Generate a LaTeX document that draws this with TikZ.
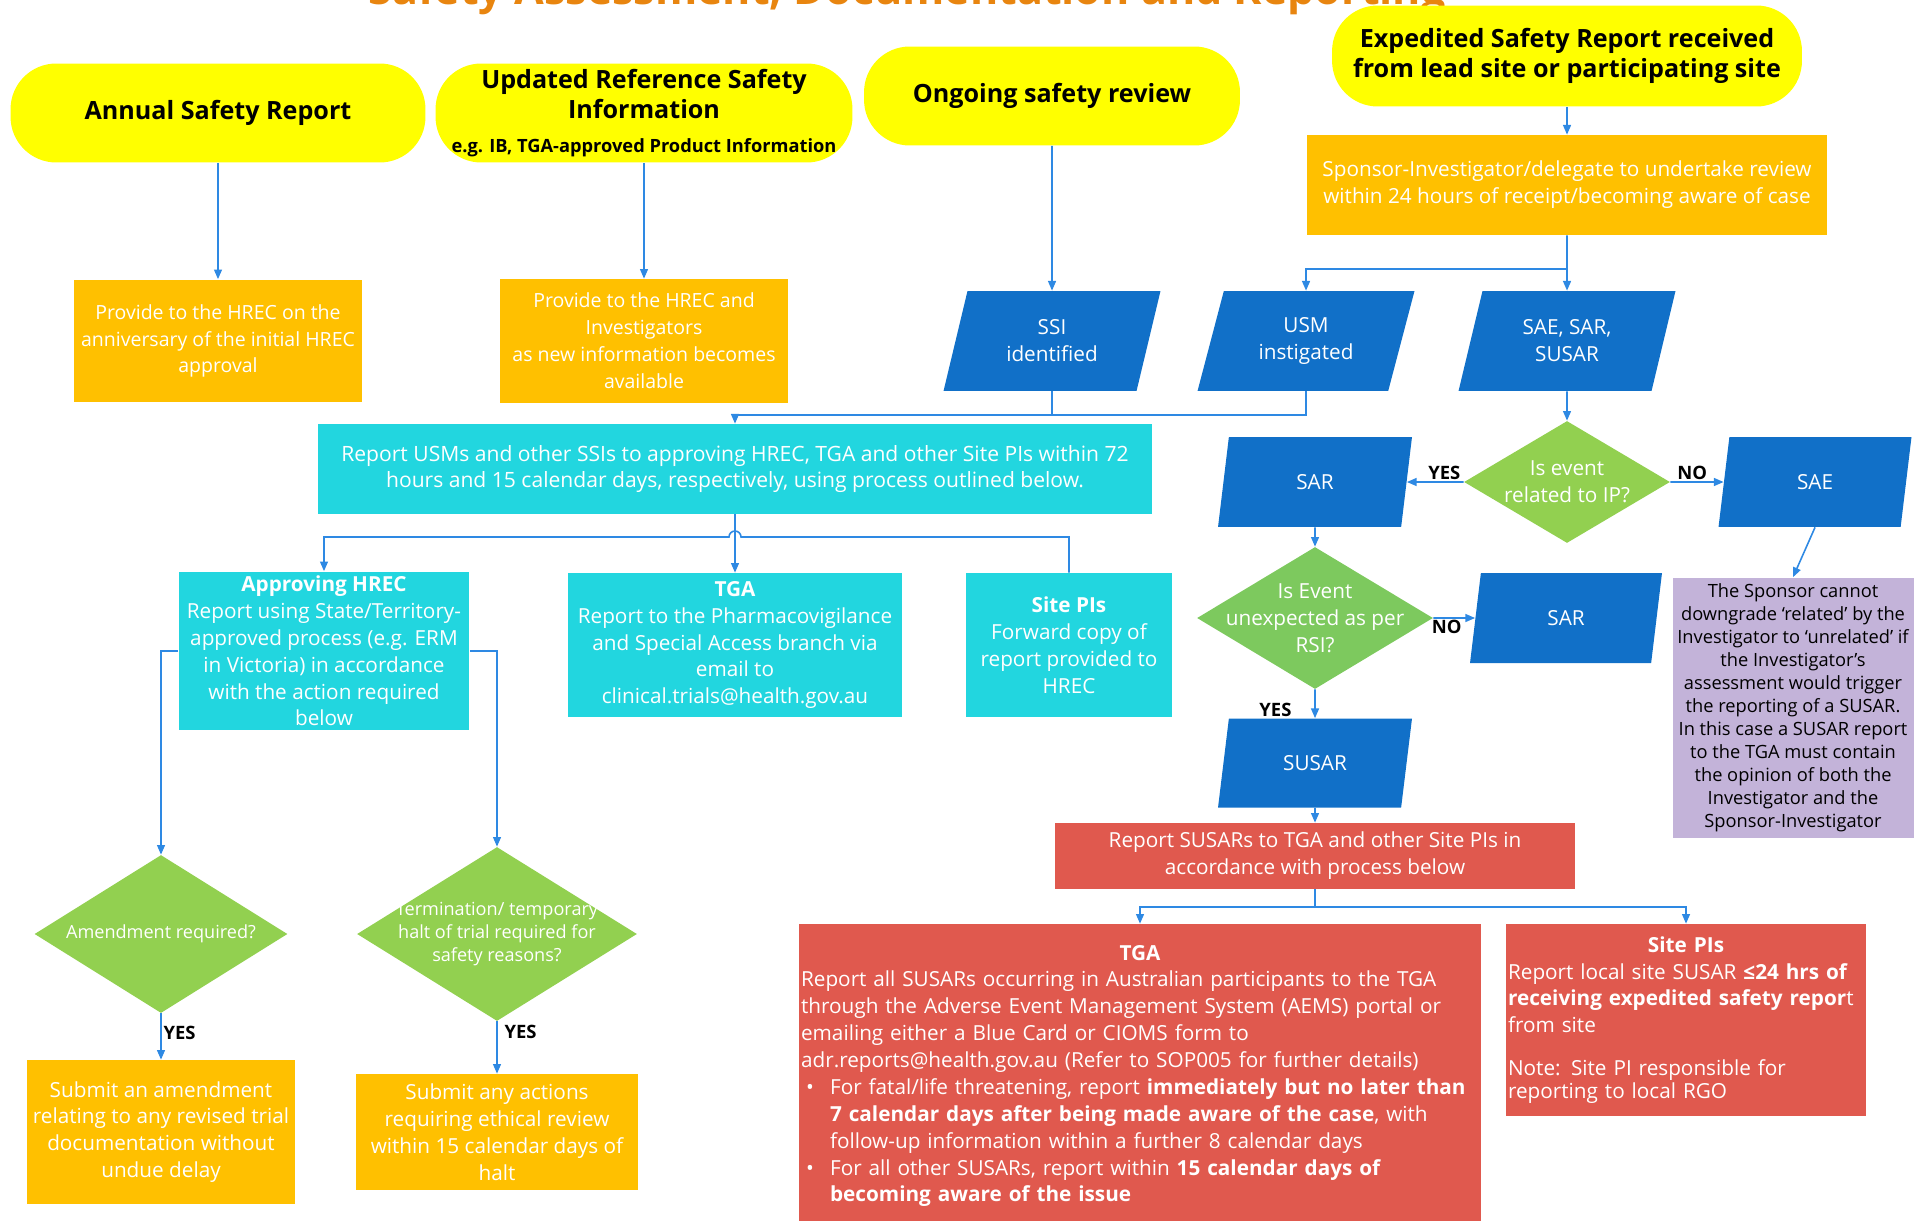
\documentclass[tikz,border=0pt]{standalone}
\usepackage{fontspec}
\setmainfont{Open Sans}
\usetikzlibrary{arrows.meta,positioning,calc,shapes.geometric}
\definecolor{sunny}{HTML}{FFFF00}
\definecolor{amber}{HTML}{FFC000}
\definecolor{ocean}{HTML}{1170C8}
\definecolor{aqua}{HTML}{22D6DF}
\definecolor{leaf}{HTML}{92D050}
\definecolor{leafdark}{HTML}{7DC95E}
\definecolor{brick}{HTML}{E0594E}
\definecolor{lilac}{HTML}{C3B3D9}
\definecolor{wire}{HTML}{2E89E3}
\definecolor{heading}{HTML}{E8850F}

\begin{document}
\begin{tikzpicture}[x=0.02cm, y=-0.02cm,
  body/.style={font=\fontsize{11.8}{15.3}\selectfont, text=white, align=center, inner sep=2pt},
  start/.style={fill=sunny, rounded corners=26pt, font=\fontsize{14.3}{17}\selectfont\bfseries, align=center, inner sep=2pt},
  obox/.style={body, fill=amber},
  cbox/.style={body, fill=aqua},
  rbox/.style={body, fill=brick},
  para/.style={body, fill=ocean, trapezium, trapezium left angle=64, trapezium right angle=116, trapezium stretches body},
  dec/.style={body, fill=leaf, diamond, inner sep=-1cm},
  note/.style={fill=lilac, align=center, font=\fontsize{10.4}{13.1}\selectfont, inner sep=2pt},
  yn/.style={font=\fontsize{10.5}{13}\selectfont\bfseries, text=black, inner sep=1pt},
  arr/.style={-{Triangle[length=5.5pt,width=4.5pt]}, wire, line width=0.9pt},
  link/.style={wire, line width=0.9pt}]
  \useasboundingbox (0,0) rectangle (1922,1220);
  \clip (0,0) rectangle (1922,1220);

  % heading, cut by the top edge
  \node[font=\fontsize{24.5}{30}\selectfont\bfseries, text=heading, anchor=base] (heading) at (907,5) {Safety Assessment, Documentation and Reporting};

  % starting points
  \node[start, minimum width=8.3cm, minimum height=1.98cm] (annual) at (218,113) {Annual Safety Report};
  \node[start, minimum width=8.34cm, minimum height=1.98cm] (updated) at (644,113) {Updated Reference Safety\\Information\\[2.3pt]{\fontsize{10.4}{12}\selectfont e.g. IB, TGA-approved Product Information}};
  \node[start, minimum width=7.52cm, minimum height=1.98cm] (ongoing) at (1052,96) {Ongoing safety review};
  \node[start, minimum width=9.4cm, minimum height=2.02cm] (expedited) at (1567,56) {Expedited Safety Report received\\from lead site or participating site};

  \node[obox, font=\fontsize{11.1}{15.3}\selectfont, minimum width=5.78cm, minimum height=2.46cm] (provide1) at (218,341) {Provide to the HREC on the\\anniversary of the initial HREC\\approval};
  \node[obox, font=\fontsize{11.1}{15.3}\selectfont, minimum width=5.78cm, minimum height=2.48cm] (provide2) at (644,341) {Provide to the HREC and\\Investigators\\as new information becomes\\available};
  \node[obox, minimum width=10.42cm, minimum height=2cm] (sponsor) at (1567,185) {Sponsor-Investigator/delegate to undertake review\\within 24 hours of receipt/becoming aware of case};

  % events
  \node[para, minimum width=4.34cm, minimum height=2cm] (ssi) at (1052,341) {SSI\\identified};
  \node[para, minimum width=4.34cm, minimum height=2cm] (usm) at (1306,341) {USM\\instigated};
  \node[para, minimum width=4.34cm, minimum height=2cm] (saesar) at (1567,341) {SAE, SAR,\\SUSAR};

  % USM / SSI reporting
  \node[cbox, font=\fontsize{12}{15.3}\selectfont, minimum width=16.7cm, minimum height=1.8cm] (reportusm) at (735,469) {Report USMs and other SSIs to approving HREC, TGA and other Site PIs within 72\\hours and 15 calendar days, respectively, using process outlined below.};
  \node[cbox, inner ysep=0pt, inner xsep=1pt, minimum width=5.82cm, minimum height=3.18cm] (hrec) at (324,651) {\textbf{Approving HREC}\\Report using State/Territory-\\approved process (e.g. ERM\\in Victoria) in accordance\\with the action required\\below};
  \node[cbox, minimum width=6.68cm, minimum height=2.88cm] (tgacyan) at (735,645) {\textbf{TGA}\\Report to the Pharmacovigilance\\and Special Access branch via\\email to\\clinical.trials@health.gov.au};
  \node[cbox, minimum width=4.14cm, minimum height=2.88cm] (sitepis) at (1069,645) {\textbf{Site PIs}\\Forward copy of\\report provided to\\HREC};

  \node[dec, font=\fontsize{10.3}{13}\selectfont, minimum width=5.06cm, minimum height=3.16cm] (amend) at (161,934) {Amendment required?};
  \node[dec, font=\fontsize{10.3}{13}\selectfont, minimum width=5.6cm, minimum height=3.48cm] (termhalt) at (497,934) {Termination/ temporary\\halt of trial required for\\safety reasons?};
  \node[obox, minimum width=5.36cm, minimum height=2.88cm] (submitamend) at (161,1132) {Submit an amendment\\relating to any revised trial\\documentation without\\undue delay};
  \node[obox, minimum width=5.64cm, minimum height=2.32cm] (submitact) at (497,1132) {Submit any actions\\requiring ethical review\\within 15 calendar days of\\halt};

  % SAE / SAR / SUSAR assessment
  \node[dec, minimum width=4.12cm, minimum height=2.44cm] (relatedip) at (1567,482) {Is event\\related to IP?};
  \node[para, minimum width=3.88cm, minimum height=1.8cm] (sarleft) at (1315,482) {SAR};
  \node[para, minimum width=3.86cm, minimum height=1.8cm] (sae) at (1815,482) {SAE};
  \node[dec, fill=leafdark, minimum width=4.72cm, minimum height=2.84cm] (unexpected) at (1315,618) {Is Event\\unexpected as per\\RSI?};
  \node[para, minimum width=3.84cm, minimum height=1.8cm] (sarright) at (1566,618) {SAR};
  \node[para, minimum width=3.88cm, minimum height=1.78cm] (susar) at (1315,763) {SUSAR};
  \node[note, minimum width=4.82cm, minimum height=5.22cm] (sponsornote) at (1793,708) {The Sponsor cannot\\downgrade ‘related’ by the\\Investigator to ‘unrelated’ if\\the Investigator’s\\assessment would trigger\\the reporting of a SUSAR.\\In this case a SUSAR report\\to the TGA must contain\\the opinion of both the\\Investigator and the\\Sponsor-Investigator};

  \node[rbox, minimum width=10.42cm, minimum height=1.32cm] (reportsusar) at (1315,856) {Report SUSARs to TGA and other Site PIs in\\accordance with process below};
  \node[rbox, align=left, inner xsep=1pt, text width=13.56cm, minimum width=13.64cm, minimum height=6.08cm] (tgared) at (1140,1076) {\makebox[\linewidth]{\textbf{TGA}}\\
    Report all SUSARs occurring in Australian participants to the TGA\\
    through the Adverse Event Management System (AEMS) portal or\\
    emailing either a Blue Card or CIOMS form to\\
    adr.reports@health.gov.au (Refer to SOP005 for further details)\\
    \hspace*{0.1cm}\makebox[0.48cm][l]{\textbullet}For fatal/life threatening, report \textbf{immediately but no later than}\\
    \hspace*{0.58cm}\textbf{7 calendar days after being made aware of the case}, with\\
    \hspace*{0.58cm}follow-up information within a further 8 calendar days\\
    \hspace*{0.1cm}\makebox[0.48cm][l]{\textbullet}For all other SUSARs, report within \textbf{15 calendar days of}\\
    \hspace*{0.58cm}\textbf{becoming aware of the issue}};
  \node[rbox, align=left, inner xsep=1pt, text width=7.12cm, minimum width=7.16cm, minimum height=3.84cm] (sitepisred) at (1686,1020) {\makebox[\linewidth]{\textbf{Site PIs}}\\
    Report local site SUSAR \textbf{≤24 hrs of}\\
    \textbf{receiving expedited safety repor}t\\
    from site\\[0.32cm]
    Note: Site PI responsible for\\[-0.08cm]
    reporting to local RGO};

  % connectors
  \coordinate (fork) at (1567,269);
  \coordinate (merge) at (735,415);
  \coordinate (hop) at (735,537);
  \coordinate (fork2) at (1315,907);

  \draw[arr] (annual.south) -- (provide1.north);
  \draw[arr] (updated.south) -- (provide2.north);
  \draw[arr] (ongoing.south) -- (ssi.north);
  \draw[arr] (expedited.south) -- (sponsor.north);
  \draw[arr] (sponsor.south) -- (saesar.north);
  \draw[arr] (fork) -| (usm.north);
  \draw[link] (ssi.south) -- (ssi.south |- merge);
  \draw[arr] (usm.south) |- (merge) -- (reportusm.north);
  \draw[arr] (reportusm.south) -- (tgacyan.north);
  \draw[arr] (sitepis.north) |- ($(hop)+(6,0)$) arc[start angle=0, end angle=180, radius=0.12cm] -| (hrec.north);
  \draw[arr] (hrec.west) -| (amend.north);
  \draw[arr] (hrec.east) -| (termhalt.north);
  \draw[arr] (amend.south) -- node[yn, right, pos=0.43] (yes1) {YES} (submitamend.north);
  \draw[arr] (termhalt.south) -- node[yn, right=0.1cm, pos=0.2] (yes2) {YES} (submitact.north);

  \draw[arr] (saesar.south) -- (relatedip.north);
  \draw[arr] (relatedip.west) -- node[yn, above, pos=0.34] (yes3) {YES} (sarleft.east);
  \draw[arr] (relatedip.east) -- node[yn, above, pos=0.41] (no1) {NO} (sae.west);
  \draw[arr] (sae.south) -- (sponsornote.north);
  \draw[arr] (sarleft.south) -- (unexpected.north);
  \draw[arr] (unexpected.east) -- node[yn, below, pos=0.32] (no2) {NO} (sarright.west);
  \draw[arr] (unexpected.south) -- node[yn, left=0.42cm, pos=0.7] (yes4) {YES} (susar.north);
  \draw[arr] (susar.south) -- (reportsusar.north);
  \draw[arr] (reportsusar.south) -- (fork2) -| (tgared.north);
  \draw[arr] (fork2) -| (sitepisred.north);
\end{tikzpicture}
\end{document}
